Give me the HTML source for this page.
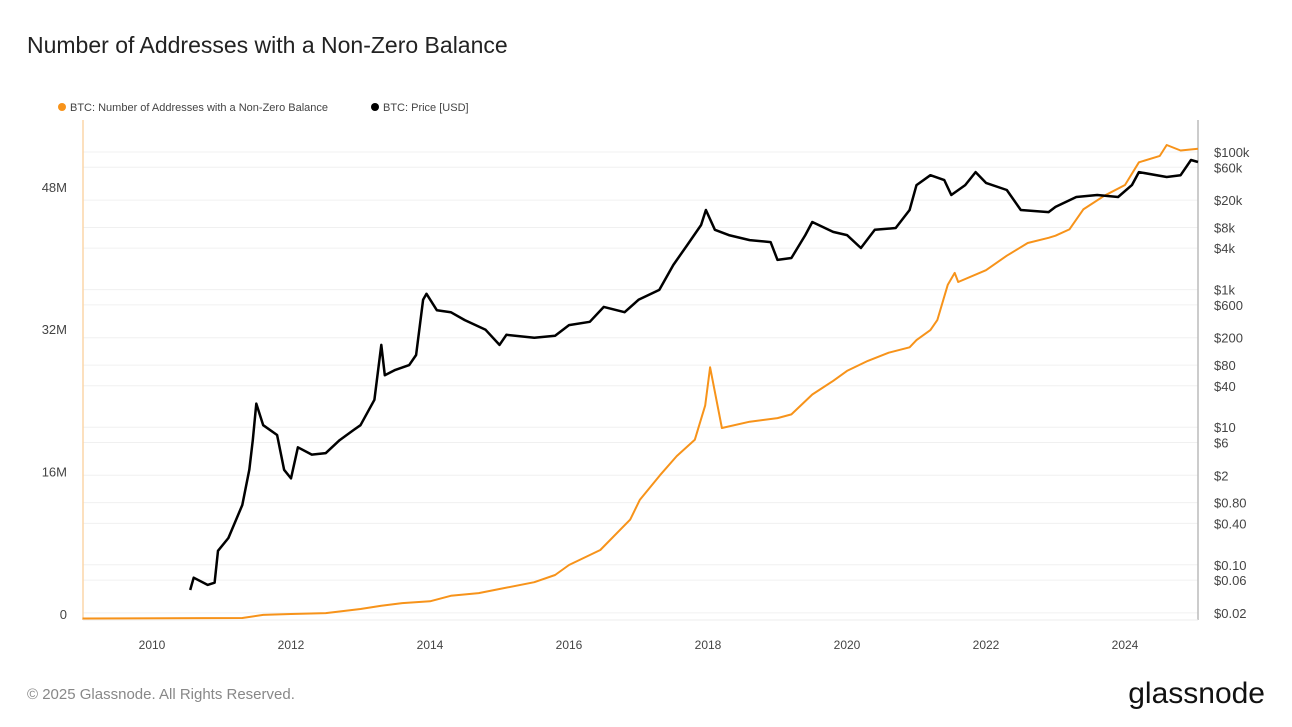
<!DOCTYPE html>
<html><head><meta charset="utf-8"><style>
body{margin:0;background:#fff;font-family:"Liberation Sans",sans-serif;}
#wrap{position:relative;width:1292px;height:727px;overflow:hidden;}
</style></head><body>
<div id="wrap">
<svg id="chart" width="1292" height="727">
<text x="27" y="53" font-size="23" fill="#222">Number of Addresses with a Non-Zero Balance</text>
<g>
<g><circle cx="62" cy="107" r="4" fill="#f7931a"/><text x="70" y="111" font-size="11" fill="#444">BTC: Number of Addresses with a Non-Zero Balance</text></g>
<g><circle cx="375" cy="107" r="4" fill="#000"/><text x="383" y="111" font-size="11" fill="#444">BTC: Price [USD]</text></g>
</g>
<g id="grid"></g>
<line x1="83" y1="120" x2="83" y2="620" stroke="#fbd6a8" stroke-width="1.5"/>
<line x1="1198" y1="120" x2="1198" y2="620" stroke="#bbb" stroke-width="1.5"/>
<line x1="83" y1="620" x2="1198" y2="620" stroke="#eee" stroke-width="1"/>
<g id="yleft"></g>
<g id="yright"></g>
<g id="xaxis"></g>
<g id="series"></g>
<text x="27" y="699" font-size="15" fill="#888">© 2025 Glassnode. All Rights Reserved.</text>
<text x="1265" y="703" font-size="30" fill="#111" text-anchor="end">glassnode</text>
</svg>
</div>
<script>
const addrYears=[2009.0,2011.3,2011.6,2012.0,2012.5,2013.0,2013.3,2013.6,2014.0,2014.3,2014.7,2015.0,2015.5,2015.8,2016.0,2016.45,2016.88,2017.02,2017.31,2017.55,2017.81,2017.96,2018.03,2018.2,2018.6,2019.0,2019.2,2019.5,2019.8,2020.0,2020.3,2020.6,2020.9,2021.0,2021.2,2021.3,2021.45,2021.55,2021.6,2022.0,2022.3,2022.6,2022.9,2023.0,2023.2,2023.4,2023.7,2024.0,2024.2,2024.5,2024.6,2024.8,2025.05];
const addrValues=[0,0.05,0.4,0.5,0.6,1.05,1.4,1.7,1.9,2.5,2.8,3.25,4.0,4.8,5.9,7.55,10.9,13.1,15.8,17.9,19.7,23.5,27.7,21.0,21.7,22.1,22.5,24.7,26.2,27.3,28.4,29.3,29.9,30.7,31.8,32.9,36.8,38.1,37.1,38.4,40.0,41.4,41.97,42.2,42.9,45.1,46.6,47.8,50.3,51.0,52.2,51.6,51.8];
const priceYears=[2010.55,2010.6,2010.8,2010.9,2010.95,2011.1,2011.3,2011.4,2011.45,2011.5,2011.6,2011.8,2011.9,2012.0,2012.1,2012.3,2012.5,2012.7,2012.9,2013.0,2013.2,2013.3,2013.35,2013.5,2013.7,2013.8,2013.9,2013.95,2014.1,2014.3,2014.5,2014.8,2015.0,2015.1,2015.5,2015.8,2016.0,2016.3,2016.5,2016.8,2017.0,2017.3,2017.5,2017.7,2017.9,2017.97,2018.1,2018.3,2018.6,2018.9,2019.0,2019.2,2019.4,2019.5,2019.8,2020.0,2020.2,2020.4,2020.7,2020.9,2021.0,2021.2,2021.4,2021.5,2021.7,2021.85,2022.0,2022.3,2022.5,2022.9,2023.0,2023.3,2023.6,2023.9,2024.1,2024.2,2024.6,2024.8,2024.95,2025.05];
const priceValues=[0.043,0.065,0.051,0.055,0.16,0.245,0.74,2.4,6.5,22,10.7,7.7,2.4,1.8,5.1,4.0,4.2,6.5,9.1,10.7,25,157,57,68,80,112,710,870,500,470,360,260,157,220,200,213,305,340,560,470,710,990,2280,4440,8700,14350,7400,6200,5250,4900,2700,2880,6200,9600,6900,6200,4030,7400,7850,14350,33000,46000,39000,23700,33000,51000,35500,28000,14350,13400,15900,22200,23700,22200,33000,51000,43300,46000,76500,71600];
const leftTicks=[0,16,32,48];
const leftTickLabels=["0","16M","32M","48M"];
const rightTicks=[100000,60000,20000,8000,4000,1000,600,200,80,40,10,6,2,0.8,0.4,0.1,0.06,0.02];
const rightTickLabels=["$100k","$60k","$20k","$8k","$4k","$1k","$600","$200","$80","$40","$10","$6","$2","$0.80","$0.40","$0.10","$0.06","$0.02"];
const xTicks=[2010,2012,2014,2016,2018,2020,2022,2024];

const NS="http://www.w3.org/2000/svg";
const xs=y=>152+(y-2010)*69.5;
const yl=v=>618.5-v*9.07;
const ylab=v=>619-v*8.9;
const yr=p=>152+(5-Math.log10(p))*68.8;
function mk(tag,attrs,parent){const e=document.createElementNS(NS,tag);for(const k in attrs)e.setAttribute(k,attrs[k]);parent.appendChild(e);return e;}
const grid=document.getElementById('grid');
rightTicks.forEach((t,i)=>{const l=mk('line',{x1:83,x2:1198,y1:yr(t),y2:yr(t),stroke:'#f0f0f0','stroke-width':1},grid);


const tx=mk('text',{x:1214,y:yr(t)+5,'font-size':13,fill:'#444'},document.getElementById('yright'));tx.textContent=rightTickLabels[i];

});
leftTicks.forEach((t,i)=>{const tx=mk('text',{x:67,y:ylab(t),'font-size':13,fill:'#444','text-anchor':'end'},document.getElementById('yleft'));tx.textContent=leftTickLabels[i];

});
xTicks.forEach(t=>{const tx=mk('text',{x:xs(t),y:649,'font-size':12,fill:'#444','text-anchor':'middle'},document.getElementById('xaxis'));tx.textContent=t;

});
const ser=document.getElementById('series');
const op=mk('polyline',{points:addrYears.map((y,i)=>xs(y).toFixed(1)+','+yl(addrValues[i]).toFixed(1)).join(' '),fill:'none',stroke:'#f7931a','stroke-width':2,'stroke-linejoin':'round'},ser);


const bp=mk('polyline',{points:priceYears.map((y,i)=>xs(y).toFixed(1)+','+yr(priceValues[i]).toFixed(1)).join(' '),fill:'none',stroke:'#000','stroke-width':2.5,'stroke-linejoin':'round'},ser);


</script>
</body></html>
